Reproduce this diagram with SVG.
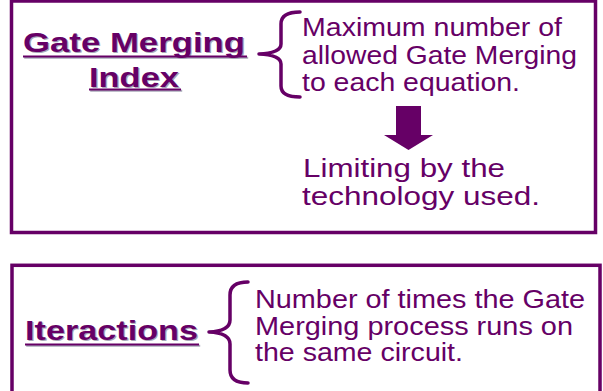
<svg xmlns="http://www.w3.org/2000/svg" width="603" height="391" viewBox="0 0 603 391">
  <defs>
    <style>
      .frame { fill: none; stroke: #660066; stroke-width: 3.5; }
      .brace { fill: none; stroke: #660066; stroke-width: 3.5; stroke-linecap: round; stroke-linejoin: round; }
      .title { font-family: "Liberation Sans", Arial, sans-serif; font-weight: bold; font-size: 28.5px; fill: #660066; }
      .title-shadow { font-family: "Liberation Sans", Arial, sans-serif; font-weight: bold; font-size: 28.5px; fill: #a8a8b8; }
      .uline { stroke: #660066; stroke-width: 2; }
      .uline-shadow { stroke: #a8a8b8; stroke-width: 2; }
      .body { font-family: "Liberation Sans", Arial, sans-serif; font-size: 25px; fill: #660066; }
      .arrow { fill: #660066; }
    </style>
  </defs>

  <rect width="603" height="391" fill="#ffffff"/>

  <!-- Panel 1: Gate Merging Index -->
  <g id="gate-merging-index">
    <rect class="frame" x="11.5" y="1" width="584" height="231.5"/>
    <g id="gmi-title">
      <text class="title-shadow" x="24.2" y="53.2" textLength="222" lengthAdjust="spacingAndGlyphs">Gate Merging</text>
      <line class="uline-shadow" x1="24.2" y1="57.7" x2="248.2" y2="57.7"/>
      <text class="title-shadow" x="90.2" y="87.7" textLength="90" lengthAdjust="spacingAndGlyphs">Index</text>
      <line class="uline-shadow" x1="90.2" y1="90.7" x2="182.2" y2="90.7"/>
      <text class="title" x="23" y="52" textLength="222" lengthAdjust="spacingAndGlyphs">Gate Merging</text>
      <line class="uline" x1="23" y1="56.5" x2="247" y2="56.5"/>
      <text class="title" x="89" y="86.5" textLength="90" lengthAdjust="spacingAndGlyphs">Index</text>
      <line class="uline" x1="89" y1="89.5" x2="181" y2="89.5"/>
    </g>
    <path class="brace" d="M300,12 Q281,12 281,24 L281,44 Q281,53 259,54 Q281,55 281,64 L281,86 Q281,97 300,97"/>
    <g id="gmi-description">
      <text class="body" x="302" y="36" textLength="260" lengthAdjust="spacingAndGlyphs">Maximum number of</text>
      <text class="body" x="302" y="63.5" textLength="275" lengthAdjust="spacingAndGlyphs">allowed Gate Merging</text>
      <text class="body" x="302" y="90.5" textLength="218" lengthAdjust="spacingAndGlyphs">to each equation.</text>
    </g>
    <g id="gmi-arrow">
      <path class="arrow" d="M396,106 L421,106 L421,135 L433,135 L408.5,150 L384,135 L396,135 Z"/>
    </g>
    <g id="gmi-limit">
      <text class="body" x="303" y="176.5" textLength="202" lengthAdjust="spacingAndGlyphs">Limiting by the</text>
      <text class="body" x="302" y="205" textLength="238" lengthAdjust="spacingAndGlyphs">technology used.</text>
    </g>
  </g>

  <!-- Panel 2: Iteractions -->
  <g id="iteractions">
    <rect class="frame" x="12" y="265.3" width="588" height="140"/>
    <g id="it-title">
      <text class="title-shadow" x="26.2" y="341.2" textLength="173" lengthAdjust="spacingAndGlyphs">Iteractions</text>
      <line class="uline-shadow" x1="26.2" y1="345.7" x2="200.2" y2="345.7"/>
      <text class="title" x="25" y="340" textLength="173" lengthAdjust="spacingAndGlyphs">Iteractions</text>
      <line class="uline" x1="25" y1="344.5" x2="199" y2="344.5"/>
    </g>
    <path class="brace" d="M248,282 Q230,282 230,295 L230,320 Q230,331 209,332 Q230,333 230,344 L230,370 Q230,383 248,383"/>
    <g id="it-description">
      <text class="body" x="255" y="308" textLength="330" lengthAdjust="spacingAndGlyphs">Number of times the Gate</text>
      <text class="body" x="255" y="334.5" textLength="318" lengthAdjust="spacingAndGlyphs">Merging process runs on</text>
      <text class="body" x="255" y="361" textLength="208" lengthAdjust="spacingAndGlyphs">the same circuit.</text>
    </g>
  </g>
</svg>
